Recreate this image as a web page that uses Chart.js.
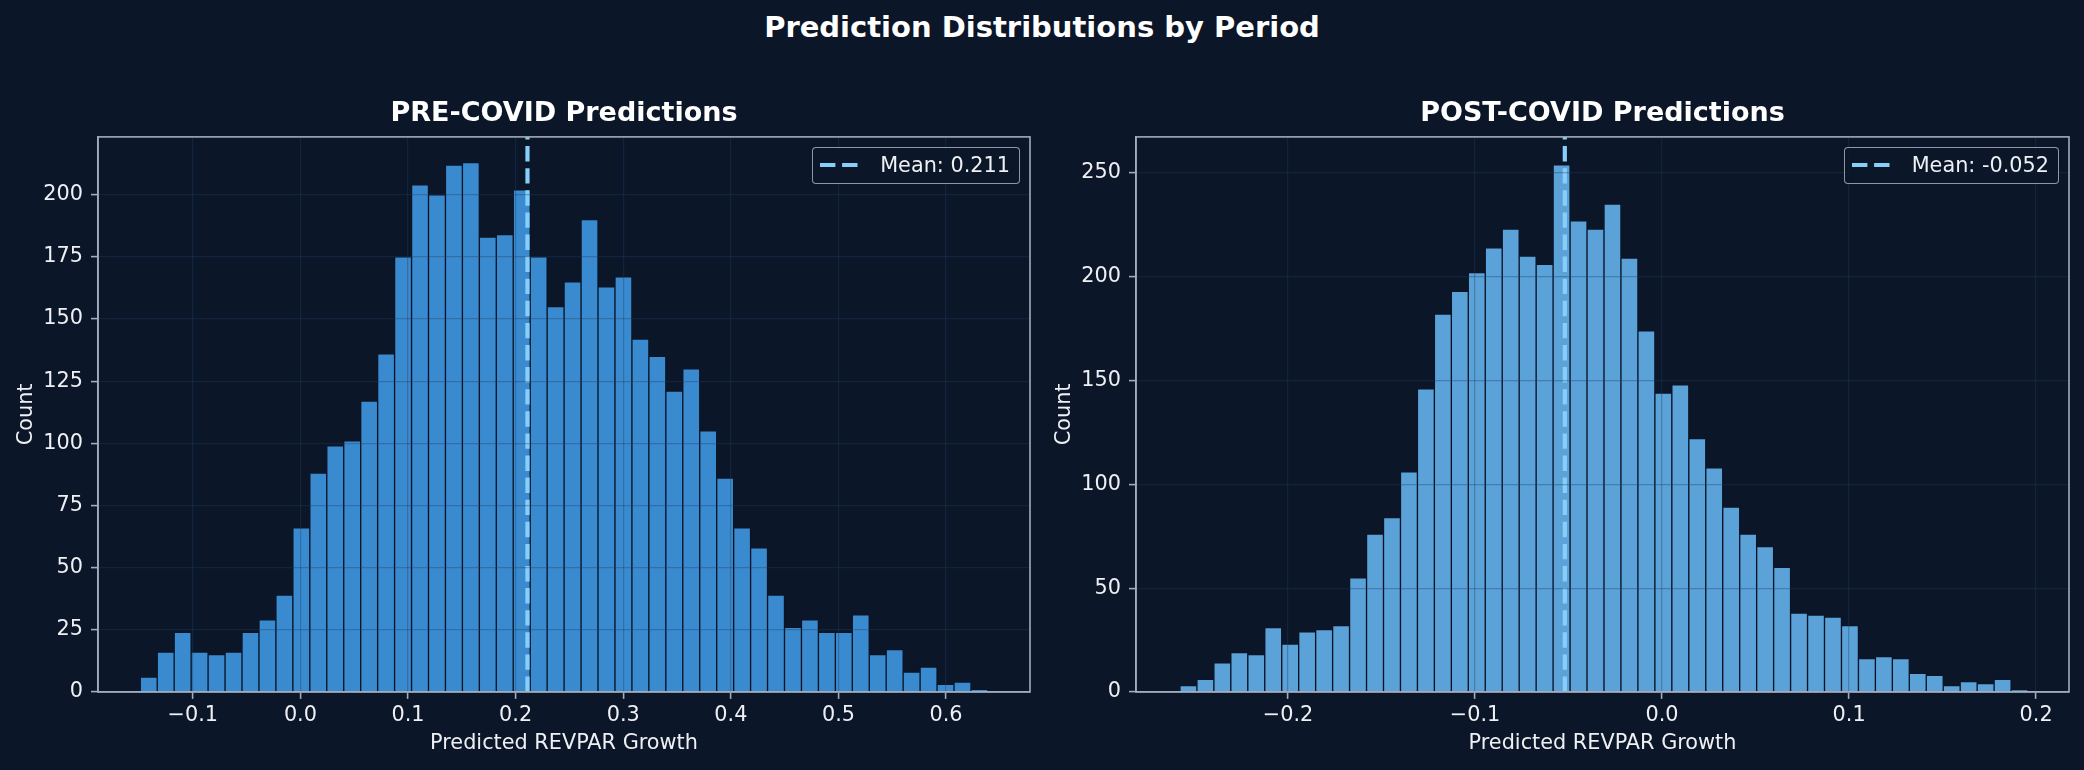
<!DOCTYPE html>
<html>
<head>
<meta charset="utf-8">
<title>Prediction Distributions by Period</title>
<script src="https://cdn.jsdelivr.net/npm/chart.js@4.4.1/dist/chart.umd.min.js"></script>
<style>
  html, body { margin: 0; padding: 0; background: #0b1628; }
  #page {
    position: relative; width: 2084px; height: 770px; overflow: hidden;
    background: #0b1628; font-family: "DejaVu Sans", sans-serif;
  }
  #suptitle {
    position: absolute; left: 0; top: 10px; width: 2084px;
    text-align: center; font-weight: bold; font-size: 29px; line-height: 34px;
    color: #ffffff;
  }
  canvas { position: absolute; top: 80px; }
  .legend {
    position: absolute; top: 146.7px; height: 37.3px; box-sizing: border-box;
    display: flex; align-items: center; padding: 0 9px 0 7px;
    border: 1.5px solid rgba(165, 175, 190, 0.85); border-radius: 4px;
    background: rgba(11, 22, 40, 0.8);
    font-size: 20.8px; color: #eef0f4; white-space: nowrap;
  }
  .legend svg { margin-right: 22px; flex: none; }
</style>
</head>
<body>
<div id="page">
  <div id="suptitle">Prediction Distributions by Period</div>
  <canvas id="preChart" width="1040" height="690" style="left:0px"></canvas>
  <canvas id="postChart" width="1046" height="690" style="left:1038px"></canvas>
  <div class="legend" id="preLegend" style="right:1064px"></div>
  <div class="legend" id="postLegend" style="right:25px"></div>
</div>
<script>
// 直方图计数（从图上读出，每组 50 个分箱）
const preCounts = [
  6, 16, 24, 16, 15, 16, 24, 29, 39, 66,
  88, 99, 101, 117, 136, 175, 204, 200, 212, 213,
  183, 184, 202, 175, 155, 165, 190, 163, 167, 142,
  135, 121, 130, 105, 86, 66, 58, 39, 26, 29,
  24, 24, 31, 15, 17, 8, 10, 3, 4, 1
];
const postCounts = [
  3, 6, 14, 19, 18, 31, 23, 29, 30, 32,
  55, 76, 84, 106, 146, 182, 193, 202, 214, 223,
  210, 206, 254, 227, 223, 235, 209, 174, 144, 148,
  122, 108, 89, 76, 70, 60, 38, 37, 36, 32,
  16, 17, 16, 9, 8, 3, 5, 4, 6, 1
];

// 分箱范围（第一个箱的左边界，最后一个箱的右边界）
const preBinRange = [-0.1488, 0.6389];
const postBinRange = [-0.2578, 0.1957];

const preMean = 0.211;
const postMean = -0.052;

// 坐标轴范围
const preXLimits = [-0.1881, 0.678];
const postXLimits = [-0.2813, 0.2176];
const preYMax = 223.3;
const postYMax = 267.4;
const preYStep = 25;
const postYStep = 50;
const xStep = 0.1;

const preTitle = "PRE-COVID Predictions";
const postTitle = "POST-COVID Predictions";
const xLabel = "Predicted REVPAR Growth";
const yLabel = "Count";

const FONT = "'DejaVu Sans', sans-serif";
const TEXT_COLOR = "#eef0f4";
const SPINE_COLOR = "#a3acbb";
const GRID_COLOR = "rgba(30, 60, 100, 0.35)";
const MEAN_COLOR = "#87cefa";
const MEAN_DASH = [15.4, 6.7];

/** 四周边框（matplotlib spines） */
const framePlugin = {
  id: "frame",
  afterDraw(chart, _args, opts) {
    const { ctx, chartArea: a } = chart;
    ctx.save();
    ctx.strokeStyle = opts.color;
    ctx.lineWidth = opts.width;
    ctx.strokeRect(a.left, a.top, a.right - a.left, a.bottom - a.top);
    ctx.restore();
  },
};

function binPoints(counts, range) {
  const w = (range[1] - range[0]) / counts.length;
  return counts.map((c, i) => ({ x: range[0] + (i + 0.5) * w, y: c }));
}

function fmtTick(v) {
  if (Math.abs(v) < 1e-9) return "0.0";
  return v.toFixed(1).replace("-", "\u2212");
}

function renderLegend(id, mean) {
  const el = document.getElementById(id);
  el.innerHTML =
    '<svg width="38" height="6"><line x1="0" y1="3" x2="38" y2="3" stroke="' + MEAN_COLOR +
    '" stroke-width="4.2" stroke-dasharray="' + MEAN_DASH.join(" ") + '"/></svg>' +
    "<span>Mean: " + mean.toFixed(3) + "</span>";
}

/**
 * @param {string} canvasId
 * @param {{ counts:number[], binRange:number[], mean:number, xLimits:number[], yMax:number, yStep:number, title:string, barColor:string, padRight:number }} cfg
 */
function makeHistogram(canvasId, cfg) {
  const ctx = document.getElementById(canvasId).getContext("2d");
  return new Chart(ctx, {
    type: "bar",
    plugins: [framePlugin],
    data: {
      datasets: [
        {
          type: "line",
          label: "Mean: " + cfg.mean.toFixed(3),
          data: [{ x: cfg.mean, y: 0 }, { x: cfg.mean, y: cfg.yMax }],
          borderColor: MEAN_COLOR,
          borderWidth: 4.2,
          borderDash: MEAN_DASH,
          borderCapStyle: "butt",
          pointRadius: 0,
          fill: false,
          order: 0,
        },
        {
          type: "bar",
          label: "Count",
          data: binPoints(cfg.counts, cfg.binRange),
          backgroundColor: cfg.barColor,
          borderColor: "#0a1426",
          borderWidth: 1,
          categoryPercentage: 1,
          barPercentage: 1,
          order: 1,
        },
      ],
    },
    options: {
      responsive: false,
      animation: false,
      devicePixelRatio: 1,
      layout: { padding: { left: 0, right: cfg.padRight, top: 0, bottom: 0 } },
      plugins: {
        legend: { display: false },
        tooltip: { enabled: false },
        frame: { color: SPINE_COLOR, width: 1.6 },
        title: {
          display: true,
          text: cfg.title,
          fullSize: false,
          color: "#ffffff",
          font: { family: FONT, size: 27, weight: "bold", lineHeight: 1.2 },
          padding: { top: 17.8, bottom: 6.7 },
        },
      },
      scales: {
        x: {
          type: "linear",
          position: "bottom",
          min: cfg.xLimits[0],
          max: cfg.xLimits[1],
          offset: false,
          afterFit: (s) => { s.height = 78.1; },
          ticks: {
            stepSize: xStep,
            includeBounds: false,
            autoSkip: false,
            maxRotation: 0,
            padding: 4.4,
            color: TEXT_COLOR,
            font: { family: FONT, size: 20.8 },
            callback: (v) => fmtTick(v),
          },
          grid: {
            z: 1,
            offset: false,
            color: GRID_COLOR,
            lineWidth: 1.2,
            drawTicks: true,
            tickLength: 7,
            tickColor: SPINE_COLOR,
            tickWidth: 1.6,
          },
          border: { z: 2, color: SPINE_COLOR, width: 1.6 },
          title: {
            display: true,
            text: xLabel,
            color: TEXT_COLOR,
            font: { family: FONT, size: 20.8, lineHeight: 1.2 },
            padding: { top: 0, bottom: 13.5 },
          },
        },
        y: {
          type: "linear",
          position: "left",
          min: 0,
          max: cfg.yMax,
          afterFit: (s) => { s.width = 98; },
          ticks: {
            stepSize: cfg.yStep,
            includeBounds: false,
            padding: 8,
            color: TEXT_COLOR,
            font: { family: FONT, size: 20.8 },
          },
          grid: {
            z: 1,
            color: GRID_COLOR,
            lineWidth: 1.2,
            drawTicks: true,
            tickLength: 7,
            tickColor: SPINE_COLOR,
            tickWidth: 1.6,
          },
          border: { z: 2, color: SPINE_COLOR, width: 1.6 },
          title: {
            display: true,
            text: yLabel,
            color: TEXT_COLOR,
            font: { family: FONT, size: 20.8, lineHeight: 1.2 },
            padding: { top: 13.9, bottom: 0 },
          },
        },
      },
    },
  });
}

makeHistogram("preChart", {
  counts: preCounts,
  binRange: preBinRange,
  mean: preMean,
  xLimits: preXLimits,
  yMax: preYMax,
  yStep: preYStep,
  title: preTitle,
  barColor: "#3a8acf",
  padRight: 10,
});

makeHistogram("postChart", {
  counts: postCounts,
  binRange: postBinRange,
  mean: postMean,
  xLimits: postXLimits,
  yMax: postYMax,
  yStep: postYStep,
  title: postTitle,
  barColor: "#5aa2d8",
  padRight: 15,
});

renderLegend("preLegend", preMean);
renderLegend("postLegend", postMean);
</script>
</body>
</html>
